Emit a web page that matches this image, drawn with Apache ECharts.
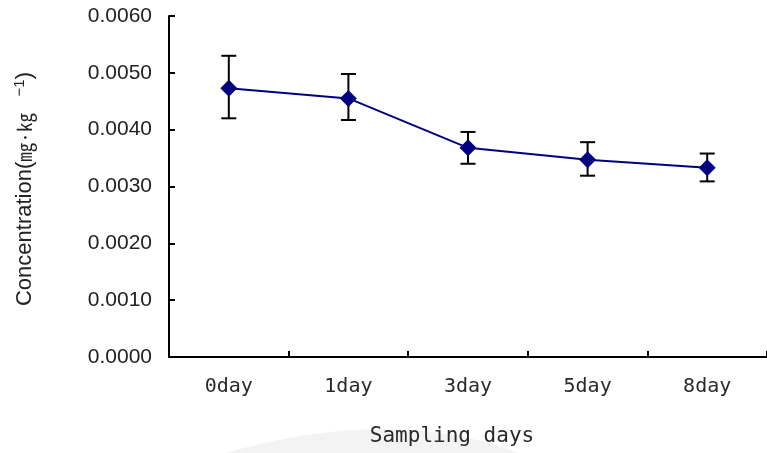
<!DOCTYPE html>
<html>
<head>
<meta charset="utf-8">
<script src="https://cdn.jsdelivr.net/npm/echarts@6/dist/echarts.min.js"></script>
<style>
  html, body { margin: 0; padding: 0; background: #ffffff; }
  #chart { width: 767px; height: 453px; }
</style>
</head>
<body>
<div id="chart"></div>
<script>
// Sampling days and measured concentration (mg·kg-1) with error bar limits
const days = ['0day', '1day', '3day', '5day', '8day'];
const concentration = [0.00473, 0.00455, 0.00368, 0.00347, 0.00333];
const errUpper = [0.00530, 0.00498, 0.00396, 0.00378, 0.00358];
const errLower = [0.00420, 0.00417, 0.00340, 0.00319, 0.00309];
const yMin = 0, yMax = 0.006, yStep = 0.001;
const yTitle = '{a|Concentration(}{u|㎎·㎏}{s|    −1}{a|)}';

const chart = echarts.init(document.getElementById('chart'), null, { renderer: 'canvas' });

const errData = days.map((d, i) => [i, errLower[i], errUpper[i]]);

const option = {
  backgroundColor: '#ffffff',
  animation: false,
  graphic: [
    {
      // faint swoosh behind the axis title
      type: 'bezierCurve',
      silent: true,
      z: -10,
      shape: { x1: 225, y1: 453, cpx1: 395, cpy1: 405, x2: 518, y2: 453 },
      style: { fill: '#f3f3f3', stroke: null, lineWidth: 0 }
    },
    {
      // vertical axis title
      type: 'text',
      silent: true,
      x: 25,
      y: 189,
      rotation: Math.PI / 2,
      style: {
        text: yTitle,
        fontFamily: 'Liberation Sans',
        fontSize: 22,
        fill: '#222',
        align: 'center',
        verticalAlign: 'middle',
        rich: {
          a: { fontFamily: 'Liberation Sans', fontSize: 22, fill: '#222' },
          u: { fontFamily: 'Noto Sans CJK KR', fontSize: 19, fill: '#222' },
          s: { fontFamily: 'Liberation Sans', fontSize: 15, fill: '#222', verticalAlign: 'top', padding: [0, 0, 11, 0] }
        }
      }
    }
  ],
  grid: { left: 169, right: -1, top: 16, bottom: 96, containLabel: false },
  xAxis: {
    type: 'category',
    data: days,
    boundaryGap: true,
    axisLine: { show: true, lineStyle: { color: '#000', width: 2 } },
    axisTick: { show: true, inside: true, length: 6, lineStyle: { color: '#000', width: 2 } },
    axisLabel: { color: '#2a2a2a', fontFamily: 'DejaVu Sans Mono', fontSize: 20, margin: 20 },
    splitLine: { show: false },
    name: 'Sampling days',
    nameLocation: 'middle',
    nameGap: 69,
    nameTextStyle: { color: '#2a2a2a', fontFamily: 'DejaVu Sans Mono', fontSize: 21, padding: [0, 32, 0, 0] }
  },
  yAxis: {
    type: 'value',
    min: yMin, max: yMax, interval: yStep,
    axisLine: { show: true, lineStyle: { color: '#000', width: 2 } },
    axisTick: { show: true, inside: true, length: 6, lineStyle: { color: '#000', width: 2 } },
    axisLabel: {
      color: '#222', fontFamily: 'Liberation Sans', fontSize: 21, margin: 17,
      formatter: v => v.toFixed(4)
    },
    splitLine: { show: false }
  },
  series: [
    {
      type: 'custom',
      name: 'error',
      z: 1,
      data: errData,
      renderItem: function (params, api) {
        const x = api.value(0);
        const lo = api.coord([x, api.value(1)]);
        const hi = api.coord([x, api.value(2)]);
        const half = 7.5;
        const style = { stroke: '#000', lineWidth: 2 };
        return {
          type: 'group',
          children: [
            { type: 'line', shape: { x1: hi[0], y1: hi[1], x2: lo[0], y2: lo[1] }, style: style },
            { type: 'line', shape: { x1: hi[0] - half, y1: hi[1], x2: hi[0] + half, y2: hi[1] }, style: style },
            { type: 'line', shape: { x1: lo[0] - half, y1: lo[1], x2: lo[0] + half, y2: lo[1] }, style: style }
          ]
        };
      }
    },
    {
      type: 'line',
      name: 'Concentration',
      z: 3,
      data: concentration,
      symbol: 'diamond',
      symbolSize: 17,
      lineStyle: { color: '#000080', width: 2 },
      itemStyle: { color: '#000080', borderWidth: 0 }
    }
  ]
};

chart.setOption(option);
</script>
</body>
</html>
